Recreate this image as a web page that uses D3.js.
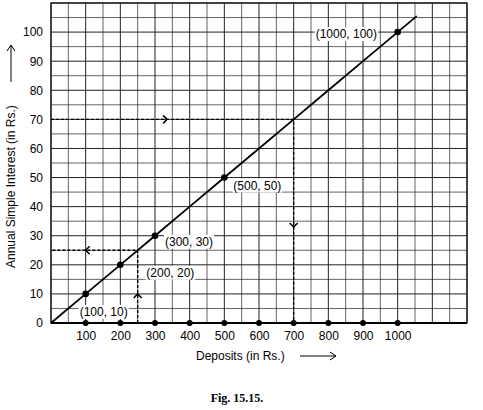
<!DOCTYPE html>
<html><head><meta charset="utf-8">
<script src="https://cdn.jsdelivr.net/npm/d3@7"></script>
<style>body{margin:0;background:#fff}text{font-family:Arial,"Liberation Sans",sans-serif}</style>
</head><body><svg id="svg" width="483" height="410"></svg>
<script>
var deposits = [0, 100, 200, 300, 400, 500, 600, 700, 800, 900, 1000],
  interest = [0, 10, 20, 30, 40, 50, 60, 70, 80, 90, 100],
  labelled = [[100, 10, "(100, 10)"], [200, 20, "(200, 20)"], [300, 30, "(300, 30)"], [500, 50, "(500, 50)"], [1000, 100, "(1000, 100)"]],
  xTicks = [100, 200, 300, 400, 500, 600, 700, 800, 900, 1000],
  yTicks = [0, 10, 20, 30, 40, 50, 60, 70, 80, 90, 100];

var svg = d3.select("#svg"),
  x = d3.scaleLinear().domain([0, 1200]).range([51, 467]),
  y = d3.scaleLinear().domain([0, 110]).range([323, 3]);

var g = svg.append("g");
d3.range(0, 1201, 50).forEach(function (v) {
  g.append("line").attr("x1", x(v)).attr("x2", x(v)).attr("y1", y(0)).attr("y2", y(110))
    .attr("stroke", "#222").attr("stroke-width", v % 100 ? 0.7 : 1);
});
d3.range(0, 111, 5).forEach(function (v) {
  g.append("line").attr("y1", y(v)).attr("y2", y(v)).attr("x1", x(0)).attr("x2", x(1200))
    .attr("stroke", "#222").attr("stroke-width", v % 10 ? 0.7 : 1);
});
g.append("rect").attr("x", x(0)).attr("y", y(110)).attr("width", x(1200) - x(0)).attr("height", y(0) - y(110))
  .attr("fill", "none").attr("stroke", "#111").attr("stroke-width", 1.2);
g.append("line").attr("x1", x(0)).attr("x2", x(1200)).attr("y1", y(0)).attr("y2", y(0)).attr("stroke", "#000").attr("stroke-width", 2);

svg.append("g").attr("transform", "translate(0," + (y(0) + 4) + ")")
  .call(d3.axisBottom(x).tickValues(xTicks).tickFormat(d3.format("d")).tickSize(0).tickPadding(4))
  .call(function (a) { a.select(".domain").remove(); a.selectAll("text").attr("font-size", 12).attr("fill", "#000"); });
svg.append("g").attr("transform", "translate(" + (x(0) - 4) + ",0)")
  .call(d3.axisLeft(y).tickValues(yTicks).tickSize(0).tickPadding(4))
  .call(function (a) { a.select(".domain").remove(); a.selectAll("text").attr("font-size", 12).attr("fill", "#000"); });

var dash = function (pts) {
  svg.append("path").attr("d", d3.line().x(function (d) { return x(d[0]); }).y(function (d) { return y(d[1]); })(pts))
    .attr("fill", "none").attr("stroke", "#000").attr("stroke-width", 1.4).attr("stroke-dasharray", "3,2");
};
dash([[0, 70], [700, 70], [700, 0]]);
dash([[250, 0], [250, 25], [0, 25]]);
function arrow(px, py, dir) {
  var cx = x(px), cy = y(py), s = 4, p;
  if (dir == "r") p = [[cx - s, cy - s], [cx, cy], [cx - s, cy + s]];
  if (dir == "l") p = [[cx + s, cy - s], [cx, cy], [cx + s, cy + s]];
  if (dir == "d") p = [[cx - s, cy - s], [cx, cy], [cx + s, cy - s]];
  if (dir == "u") p = [[cx - s, cy + s], [cx, cy], [cx + s, cy + s]];
  svg.append("path").attr("d", d3.line()(p)).attr("fill", "none").attr("stroke", "#000").attr("stroke-width", 1.5);
}
arrow(335, 70, "r");
arrow(700, 33, "d");
arrow(100, 25, "l");
arrow(250, 10, "u");

svg.append("path").attr("d", d3.line().x(function (d) { return x(d[0]); }).y(function (d) { return y(d[1]); })(deposits.map(function (d, i) { return [d, interest[i]]; }).concat([[1055, 105.5]])))
  .attr("fill", "none").attr("stroke", "#000").attr("stroke-width", 1.8);

svg.selectAll(".axdot").data(xTicks).enter().append("circle").attr("cx", function (d) { return x(d); }).attr("cy", y(0)).attr("r", 3).attr("fill", "#000");
svg.selectAll(".pt").data(labelled).enter().append("circle").attr("cx", function (d) { return x(d[0]); }).attr("cy", function (d) { return y(d[1]); }).attr("r", 3.3).attr("fill", "#000");

var off = { 100: [-6, 22], 200: [26, 12], 300: [10, 10], 500: [9, 12], 1000: [-82, 6] };
var lg = svg.append("g");
labelled.forEach(function (d) {
  var t = lg.append("text").attr("x", x(d[0]) + off[d[0]][0]).attr("y", y(d[1]) + off[d[0]][1])
    .attr("font-size", 12).text(d[2]);
  var b = t.node().getBBox();
  lg.insert("rect", "text").attr("x", b.x - 1).attr("y", b.y).attr("width", b.width + 2).attr("height", b.height).attr("fill", "#fff");
});

svg.append("text").attr("x", 196).attr("y", 360).attr("font-size", 12).text("Deposits (in Rs.)");
svg.append("path").attr("d", "M300,356H336M330,352L336,356L330,360").attr("fill", "none").attr("stroke", "#000");
svg.append("text").attr("transform", "translate(15,268) rotate(-90)").attr("font-size", 12).text("Annual Simple Interest (in Rs.)");
svg.append("path").attr("d", "M11,82V45M7,51L11,45L15,51").attr("fill", "none").attr("stroke", "#000");
svg.append("text").attr("x", 237).attr("y", 402).attr("text-anchor", "middle").attr("font-size", 12).attr("font-weight", "bold")
  .style("font-family", "Liberation Serif, serif").text("Fig. 15.15.");
</script></body></html>
